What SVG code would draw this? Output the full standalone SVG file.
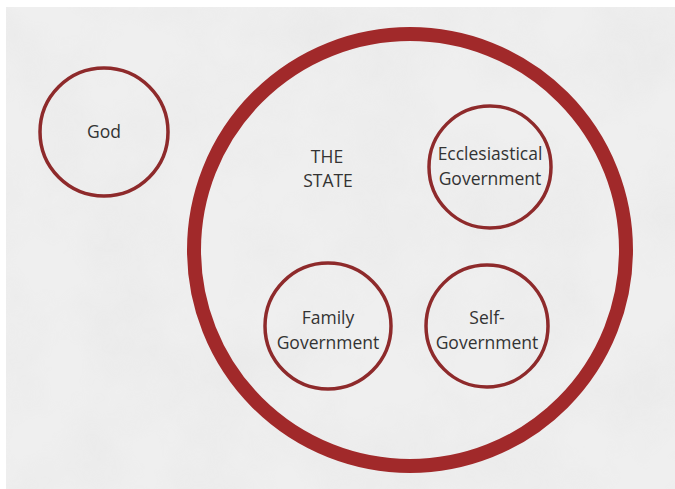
<svg xmlns="http://www.w3.org/2000/svg" width="675" height="489" viewBox="0 0 675 489">
  <defs>
    <style>
      .ring { fill: none; stroke: #8e2a2b; stroke-width: 3.5; }
      .big { fill: none; stroke: #a1292a; stroke-width: 14; }
      .lbl { font-family: "Open Sans", "Liberation Sans", sans-serif; font-size: 17.5px; fill: #333333; text-anchor: middle; }
    </style>
    <filter id="tex" x="0" y="0" width="100%" height="100%">
      <feTurbulence type="fractalNoise" baseFrequency="0.012" numOctaves="4" seed="7" result="n"/>
      <feColorMatrix in="n" type="matrix" values="0 0 0 0 0.75  0 0 0 0 0.75  0 0 0 0 0.75  0 0 0 -1.6 1.05"/>
    </filter>
  </defs>
  <rect x="0" y="0" width="675" height="489" fill="#ffffff"/>
  <rect x="6" y="7" width="669" height="482" fill="#efefef"/>
  <rect x="6" y="7" width="669" height="482" filter="url(#tex)" opacity="0.35"/>

  <g id="state">
    <circle class="big" cx="410" cy="250" r="216"/>
    <text class="lbl" x="327" y="163">THE</text>
    <text class="lbl" x="328" y="187">STATE</text>
  </g>
  <g id="god">
    <circle class="ring" cx="104" cy="132" r="64"/>
    <text class="lbl" x="104" y="138">God</text>
  </g>
  <g id="ecclesiastical">
    <circle class="ring" cx="490" cy="167" r="61"/>
    <text class="lbl" x="490" y="160">Ecclesiastical</text>
    <text class="lbl" x="490" y="185">Government</text>
  </g>
  <g id="family">
    <circle class="ring" cx="328" cy="326" r="63"/>
    <text class="lbl" x="328" y="324">Family</text>
    <text class="lbl" x="328" y="349">Government</text>
  </g>
  <g id="self">
    <circle class="ring" cx="487" cy="326" r="61"/>
    <text class="lbl" x="487" y="324">Self-</text>
    <text class="lbl" x="487" y="349">Government</text>
  </g>
  <g id="connectors"></g>
</svg>
